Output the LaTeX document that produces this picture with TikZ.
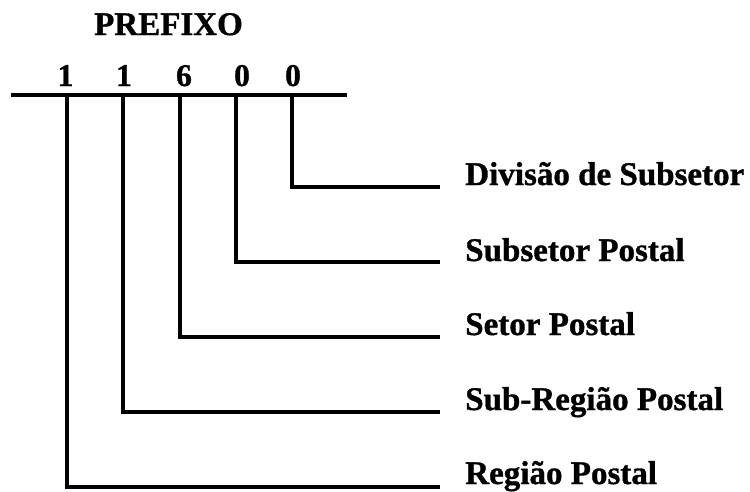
\documentclass[tikz,border=0pt]{standalone}
\usepackage{fontspec}
\setmainfont[BoldFeatures={FakeBold=1}]{Liberation Serif}
\usepackage{tikz}
\usetikzlibrary{calc}

\begin{document}
\begin{tikzpicture}[line width=2.6pt,
	lbl/.style={anchor=base west, inner sep=0pt, font=\fontsize{18.8}{22}\selectfont\bfseries},
	dig/.style={anchor=base, inner sep=0pt, font=\fontsize{18}{21}\selectfont\bfseries}]
			\useasboundingbox (0, 0) rectangle (15, -9.84);
			
			\coordinate (L) at (0.22, -1.9);
			\coordinate (R) at (6.94, -1.9);
			\coordinate (T1) at (1.34, -1.9);
			\coordinate (T2) at (2.46, -1.9);
			\coordinate (T3) at (3.6, -1.9);
			\coordinate (T4) at (4.72, -1.9);
			\coordinate (T5) at (5.84, -1.9);
			\coordinate (E1) at (8.8, -9.74);
			\coordinate (E2) at (8.8, -8.24);
			\coordinate (E3) at (8.8, -6.74);
			\coordinate (E4) at (8.8, -5.24);
			\coordinate (E5) at (8.8, -3.74);
			
			\node[anchor=base, inner sep=0pt, font=\fontsize{18.8}{22}\selectfont\bfseries] (pre) at (3.37, -0.7) {PREFIXO};
			\node[dig] (d1) at (1.31, -1.72) {1};
			\node[dig] (d2) at (2.48, -1.72) {1};
			\node[dig] (d3) at (3.68, -1.72) {6};
			\node[dig] (d4) at (4.84, -1.72) {0};
			\node[dig] (d5) at (5.86, -1.72) {0};
			
			\node[lbl] (reg) at (9.26, -9.68) {Região Postal};
			\node[lbl] (subreg) at (9.26, -8.2) {Sub-Região Postal};
			\node[lbl] (set) at (9.26, -6.7) {Setor Postal};
			\node[lbl] (subset) at (9.26, -5.22) {Subsetor Postal};
			\node[lbl] (div) at (9.26, -3.7) {Divisão de Subsetor};
			
			\draw (L)--(R);
			\draw (T1) |- (E1);
			\draw (T2) |- (E2);
			\draw (T3) |- (E3);
			\draw (T4) |- (E4);
			\draw (T5) |- (E5);
			\end{tikzpicture}
\end{document}
